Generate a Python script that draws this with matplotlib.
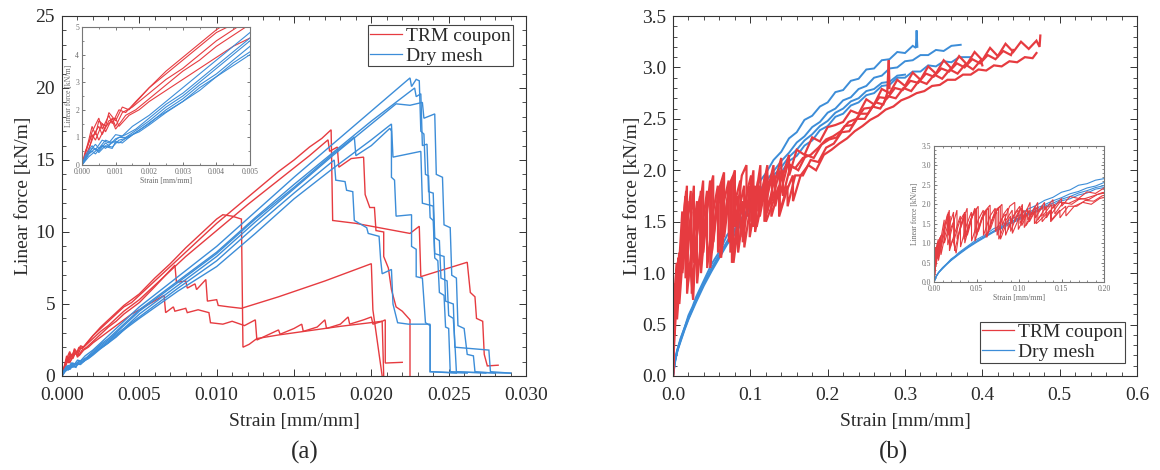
import matplotlib
matplotlib.use("Agg")
import matplotlib.pyplot as plt
from matplotlib.ticker import MultipleLocator, FormatStrFormatter

plt.rcParams['font.family'] = ['Liberation Serif', 'DejaVu Serif']

# ---------------- data: panel (a)  (strain [mm/mm], linear force [kN/m]) ----------------
trm_a1 = [(0, 0), (0.0002, 0.8), (0.0003, 1.2), (0.0005, 1.7), (0.0006, 1.3), (0.0008, 1.8), (0.0009, 1.5),
          (0.0011, 2.0), (0.0013, 1.9), (0.0016, 2.3), (0.0020, 2.8), (0.0025, 3.3), (0.0030, 3.8), (0.0035, 4.3),
          (0.0040, 4.8), (0.0045, 5.1), (0.0050, 5.6), (0.0060, 6.6), (0.0070, 7.6), (0.0080, 8.6), (0.0090, 9.6),
          (0.0100, 10.6), (0.0110, 11.5), (0.0120, 12.4), (0.0130, 13.3), (0.0140, 14.2), (0.0150, 15.0),
          (0.0160, 15.9), (0.0168, 16.5), (0.0174, 17.1), (0.0175, 10.8), (0.0190, 10.6), (0.0210, 10.2),
          (0.0225, 9.9), (0.0231, 10.4), (0.0232, 6.9), (0.0262, 7.9), (0.0264, 5.8), (0.0267, 5.5),
          (0.0268, 4.0), (0.0272, 3.8), (0.0273, 1.5), (0.0275, 0.7), (0.0282, 0.75)]
trm_a2 = [(0, 0), (0.0001, 0.5), (0.0003, 1.1), (0.0004, 0.9), (0.0006, 1.5), (0.0007, 1.2), (0.0009, 1.7),
          (0.0010, 1.4), (0.0012, 1.9), (0.0015, 2.1), (0.0020, 2.6), (0.0025, 3.1), (0.0030, 3.5), (0.0035, 4.0),
          (0.0040, 4.5), (0.0045, 4.9), (0.0050, 5.3), (0.0060, 6.3), (0.0080, 8.3), (0.0100, 10.1),
          (0.0120, 11.9), (0.0140, 13.6), (0.0160, 15.3), (0.0172, 16.4), (0.0173, 15.6), (0.0178, 15.9),
          (0.0179, 14.5), (0.0187, 15.1), (0.0195, 15.2), (0.0196, 12.6), (0.0199, 11.7), (0.0202, 11.7),
          (0.0203, 10.1), (0.0208, 10.0), (0.0208, 8.3), (0.0211, 7.5), (0.0213, 6.0), (0.0216, 4.8),
          (0.0220, 4.5), (0.0225, 3.9), (0.0225, 0.0)]
trm_a3 = [(0, 0), (0.0002, 0.9), (0.0003, 1.4), (0.0004, 1.1), (0.0005, 1.6), (0.0007, 1.4), (0.0008, 1.9),
          (0.0010, 1.6), (0.0012, 2.1), (0.0014, 2.0), (0.0017, 2.4), (0.0020, 2.8), (0.0025, 3.4), (0.0030, 3.9),
          (0.0035, 4.4), (0.0040, 4.9), (0.0045, 5.3), (0.0050, 5.7), (0.0060, 6.8), (0.0070, 7.8), (0.0080, 8.9),
          (0.0090, 9.9), (0.0100, 10.9), (0.0104, 11.2), (0.0110, 11.1), (0.0116, 10.9), (0.0117, 2.0),
          (0.0121, 2.2), (0.0126, 2.6), (0.0140, 2.85), (0.0160, 3.15), (0.0180, 3.45), (0.0207, 3.8),
          (0.0209, 3.9), (0.0209, 0.9), (0.0220, 0.95)]
trm_a4 = [(0, 0), (0.0002, 0.6), (0.0004, 1.2), (0.0005, 0.9), (0.0007, 1.4), (0.0009, 1.6), (0.0010, 1.3),
          (0.0013, 1.8), (0.0016, 2.0), (0.0020, 2.4), (0.0025, 2.9), (0.0030, 3.4), (0.0035, 3.8), (0.0040, 4.3),
          (0.0045, 4.7), (0.0050, 5.1), (0.0060, 6.2), (0.0073, 7.7), (0.0074, 6.5), (0.0080, 6.6), (0.0081, 6.1),
          (0.0086, 6.4), (0.0087, 6.0), (0.0093, 6.7), (0.0094, 5.2), (0.0100, 5.3), (0.0101, 4.9),
          (0.0108, 4.8), (0.0116, 4.7), (0.0140, 5.5), (0.0170, 6.6), (0.0200, 7.8), (0.0201, 4.6),
          (0.0207, 0.0)]
trm_a5 = [(0, 0), (0.0002, 0.5), (0.0003, 1.0), (0.0005, 1.4), (0.0006, 1.1), (0.0008, 1.6), (0.0010, 1.7),
          (0.0011, 1.4), (0.0014, 1.8), (0.0017, 2.0), (0.0020, 2.3), (0.0025, 2.7), (0.0030, 3.1), (0.0035, 3.5),
          (0.0040, 3.9), (0.0045, 4.3), (0.0050, 4.6), (0.0058, 5.1), (0.0066, 5.6), (0.0067, 4.4),
          (0.0072, 4.8), (0.0073, 4.5), (0.0080, 4.7), (0.0081, 4.4), (0.0088, 4.6), (0.0095, 4.4),
          (0.0096, 3.7), (0.0104, 3.6), (0.0110, 3.8), (0.0118, 3.5), (0.0125, 3.9), (0.0126, 2.5),
          (0.0132, 2.8), (0.0140, 3.2), (0.0141, 2.9), (0.0150, 3.3), (0.0155, 3.6), (0.0156, 3.1),
          (0.0165, 3.4), (0.0170, 3.9), (0.0171, 3.3), (0.0180, 3.6), (0.0185, 4.1), (0.0186, 3.6),
          (0.0195, 3.9), (0.0200, 4.1), (0.0201, 3.6), (0.0207, 3.8), (0.0208, 0.0)]

dry_a1 = [(0, 0), (0.0001, 0.35), (0.0003, 0.7), (0.0004, 0.55), (0.0006, 0.9), (0.0008, 0.8), (0.0010, 1.1),
          (0.0012, 1.05), (0.0015, 1.4), (0.0020, 1.8), (0.0025, 2.3), (0.0030, 2.8), (0.0035, 3.3), (0.0040, 3.8),
          (0.0045, 4.3), (0.0050, 4.8), (0.0075, 6.9), (0.0100, 9.0), (0.0125, 11.4), (0.0150, 13.8),
          (0.0175, 16.1), (0.0200, 18.4), (0.0225, 20.7), (0.0226, 20.1), (0.0229, 20.6), (0.0231, 20.5),
          (0.0232, 17.0), (0.0234, 16.8), (0.0235, 14.0), (0.0237, 13.9), (0.0238, 11.0), (0.0240, 10.8),
          (0.0241, 8.2), (0.0243, 8.0), (0.0244, 5.8), (0.0247, 5.6), (0.0248, 3.4), (0.0250, 3.3),
          (0.0251, 0.3), (0.0265, 0.25), (0.0290, 0.2)]
dry_a2 = [(0, 0), (0.0002, 0.4), (0.0003, 0.6), (0.0005, 0.5), (0.0007, 0.8), (0.0008, 0.7), (0.0010, 0.95),
          (0.0013, 1.1), (0.0016, 1.3), (0.0020, 1.7), (0.0025, 2.2), (0.0030, 2.6), (0.0035, 3.1), (0.0040, 3.6),
          (0.0045, 4.1), (0.0050, 4.6), (0.0075, 6.6), (0.0100, 8.6), (0.0125, 11.0), (0.0150, 13.3),
          (0.0175, 15.5), (0.0200, 17.7), (0.0228, 20.0), (0.0229, 19.4), (0.0232, 19.6), (0.0233, 16.0),
          (0.0236, 16.1), (0.0237, 12.8), (0.0240, 12.7), (0.0241, 9.6), (0.0244, 9.4), (0.0245, 6.8),
          (0.0249, 6.6), (0.0250, 4.2), (0.0253, 4.0), (0.0254, 2.3), (0.0255, 0.3), (0.0274, 0.2)]
dry_a3 = [(0, 0), (0.0001, 0.3), (0.0003, 0.5), (0.0004, 0.4), (0.0006, 0.7), (0.0009, 0.6), (0.0010, 0.85),
          (0.0012, 0.8), (0.0015, 1.1), (0.0020, 1.5), (0.0025, 2.0), (0.0030, 2.4), (0.0035, 2.9), (0.0040, 3.3),
          (0.0045, 3.8), (0.0050, 4.3), (0.0075, 6.3), (0.0100, 8.3), (0.0125, 10.7), (0.0150, 13.0),
          (0.0175, 15.3), (0.0200, 17.5), (0.0216, 18.9), (0.0225, 18.8), (0.0233, 19.0), (0.0234, 17.9),
          (0.0241, 18.2), (0.0242, 14.0), (0.0246, 13.8), (0.0247, 10.5), (0.0251, 10.3), (0.0252, 7.0),
          (0.0255, 6.8), (0.0256, 3.5), (0.0260, 3.3), (0.0262, 1.5), (0.0266, 1.4), (0.0267, 0.3),
          (0.0280, 0.2)]
dry_a4 = [(0, 0), (0.0002, 0.45), (0.0004, 0.75), (0.0005, 0.6), (0.0007, 0.9), (0.0009, 0.8), (0.0011, 1.0),
          (0.0013, 1.0), (0.0016, 1.25), (0.0020, 1.6), (0.0025, 2.1), (0.0030, 2.5), (0.0035, 3.0), (0.0040, 3.5),
          (0.0045, 4.0), (0.0050, 4.5), (0.0075, 6.5), (0.0100, 8.5), (0.0125, 10.9), (0.0150, 13.1),
          (0.0175, 15.4), (0.0189, 16.6), (0.0190, 15.3), (0.0200, 16.0), (0.0212, 17.2), (0.0213, 17.0),
          (0.0213, 13.8), (0.0215, 13.6), (0.0216, 11.1), (0.0226, 11.2), (0.0226, 9.0), (0.0229, 8.8),
          (0.0229, 6.9), (0.0233, 6.8), (0.0235, 3.7), (0.0238, 3.5), (0.0238, 0.3), (0.0255, 0.2)]
dry_a5 = [(0, 0), (0.0001, 0.2), (0.0002, 0.4), (0.0004, 0.6), (0.0005, 0.45), (0.0007, 0.7), (0.0009, 0.65),
          (0.0011, 0.9), (0.0014, 1.0), (0.0018, 1.35), (0.0022, 1.7), (0.0026, 2.0), (0.0030, 2.3), (0.0035, 2.8),
          (0.0040, 3.2), (0.0045, 3.7), (0.0050, 4.1), (0.0075, 6.1), (0.0100, 8.0), (0.0125, 10.4),
          (0.0150, 12.7), (0.0176, 15.0), (0.0177, 13.6), (0.0183, 13.5), (0.0184, 12.9), (0.0188, 12.8),
          (0.0189, 10.8), (0.0197, 10.3), (0.0198, 9.9), (0.0205, 9.7), (0.0206, 8.1), (0.0207, 7.1),
          (0.0213, 7.4), (0.0214, 5.0), (0.0217, 3.7), (0.0224, 3.6), (0.0238, 3.6), (0.0238, 0.3),
          (0.0262, 0.2)]
dry_a6 = [(0, 0), (0.0002, 0.3), (0.0004, 0.5), (0.0006, 0.7), (0.0007, 0.6), (0.0009, 0.85), (0.0011, 0.8),
          (0.0014, 1.05), (0.0017, 1.2), (0.0020, 1.45), (0.0025, 1.9), (0.0030, 2.3), (0.0035, 2.7),
          (0.0040, 3.2), (0.0045, 3.6), (0.0050, 4.0), (0.0075, 5.9), (0.0100, 7.6), (0.0125, 9.9),
          (0.0150, 12.3), (0.0175, 14.4), (0.0200, 16.4), (0.0213, 17.5), (0.0214, 15.2), (0.0232, 15.6),
          (0.0233, 12.0), (0.0240, 11.8), (0.0241, 8.5), (0.0247, 8.3), (0.0248, 5.2), (0.0253, 5.0),
          (0.0254, 2.0), (0.0276, 1.8), (0.0277, 0.3), (0.0290, 0.2)]

# ---------------- data: panel (b) ----------------
trm_b1 = [(0, 0), (0.002, 0.45), (0.004, 0.8), (0.006, 1.05), (0.0062, 0.7), (0.011, 1.3), (0.016, 1.75),
          (0.0162, 0.95), (0.022, 1.45), (0.027, 1.85), (0.0272, 1.1), (0.034, 1.6), (0.039, 1.9), (0.0392, 1.2),
          (0.046, 1.75), (0.052, 1.95), (0.0522, 1.3), (0.059, 1.8), (0.066, 1.98), (0.0662, 1.35),
          (0.074, 1.85), (0.080, 2.0), (0.0802, 1.45), (0.089, 1.95), (0.095, 2.05), (0.0952, 1.55),
          (0.104, 2.0), (0.1042, 1.6), (0.113, 2.05), (0.1132, 1.7), (0.122, 2.05), (0.1222, 1.8),
          (0.130, 2.05), (0.1302, 1.85), (0.140, 2.12), (0.1402, 1.9), (0.150, 2.15), (0.1502, 1.95),
          (0.160, 2.2), (0.170, 2.15), (0.180, 2.32), (0.190, 2.28), (0.200, 2.42), (0.210, 2.44),
          (0.220, 2.47), (0.230, 2.58), (0.240, 2.55), (0.250, 2.69), (0.260, 2.64), (0.270, 2.79),
          (0.280, 2.75), (0.290, 2.88), (0.300, 2.82), (0.310, 2.95), (0.320, 2.88), (0.330, 3.01),
          (0.340, 2.94), (0.350, 3.07), (0.360, 2.99), (0.370, 3.11), (0.380, 3.03), (0.390, 3.15),
          (0.400, 3.07), (0.410, 3.19), (0.420, 3.11), (0.430, 3.23), (0.440, 3.15), (0.450, 3.25),
          (0.460, 3.18), (0.470, 3.26), (0.474, 3.2), (0.475, 3.31)]
trm_b2 = [(0, 0), (0.001, 0.35), (0.003, 0.9), (0.005, 1.1), (0.0052, 0.55), (0.009, 0.95), (0.014, 1.45),
          (0.018, 1.85), (0.0182, 0.8), (0.022, 1.1), (0.026, 0.74), (0.030, 1.35), (0.036, 1.8), (0.0362, 1.0),
          (0.042, 1.5), (0.048, 1.9), (0.0482, 1.05), (0.056, 1.65), (0.062, 1.85), (0.0622, 1.15),
          (0.070, 1.7), (0.076, 1.9), (0.0762, 1.1), (0.085, 1.6), (0.092, 1.85), (0.0922, 1.25),
          (0.100, 1.65), (0.106, 1.85), (0.1062, 1.4), (0.115, 1.75), (0.120, 1.85), (0.1202, 1.5),
          (0.130, 1.7), (0.137, 1.85), (0.1372, 1.55), (0.147, 1.8), (0.155, 1.95), (0.1552, 1.7),
          (0.165, 1.95), (0.175, 2.05), (0.185, 2.0), (0.195, 2.15), (0.205, 2.2), (0.215, 2.26),
          (0.225, 2.31), (0.235, 2.38), (0.245, 2.43), (0.255, 2.49), (0.265, 2.53), (0.275, 2.59),
          (0.285, 2.62), (0.295, 2.68), (0.305, 2.71), (0.315, 2.75), (0.325, 2.77), (0.335, 2.82),
          (0.345, 2.83), (0.355, 2.88), (0.365, 2.88), (0.375, 2.93), (0.385, 2.93), (0.395, 2.98),
          (0.405, 2.97), (0.415, 3.02), (0.425, 3.01), (0.435, 3.06), (0.445, 3.05), (0.455, 3.1),
          (0.465, 3.09), (0.470, 3.14)]
trm_b3 = [(0, 0), (0.002, 0.6), (0.004, 1.0), (0.0042, 0.6), (0.008, 1.1), (0.012, 1.6), (0.0122, 1.0),
          (0.018, 1.45), (0.023, 1.8), (0.0232, 1.05), (0.030, 1.55), (0.035, 1.75), (0.0352, 1.1),
          (0.043, 1.6), (0.050, 1.9), (0.0502, 1.2), (0.058, 1.75), (0.064, 1.9), (0.0642, 1.3),
          (0.072, 1.85), (0.078, 1.95), (0.0782, 1.1), (0.085, 1.5), (0.090, 1.7), (0.0902, 1.3),
          (0.098, 1.75), (0.103, 1.9), (0.1032, 1.45), (0.112, 1.85), (0.1122, 1.55), (0.122, 1.95),
          (0.1222, 1.6), (0.132, 1.95), (0.1322, 1.65), (0.142, 2.0), (0.1422, 1.75), (0.152, 2.05),
          (0.162, 2.0), (0.172, 2.15), (0.182, 2.12), (0.192, 2.25), (0.202, 2.3), (0.212, 2.32),
          (0.222, 2.43), (0.232, 2.44), (0.242, 2.55), (0.252, 2.55), (0.262, 2.66), (0.272, 2.64),
          (0.277, 2.75), (0.279, 3.07), (0.280, 2.8)]
trm_b4 = [(0, 0), (0.001, 0.5), (0.002, 0.9), (0.0022, 0.4), (0.005, 0.8), (0.008, 1.2), (0.0082, 0.7),
          (0.013, 1.2), (0.019, 1.7), (0.0192, 0.9), (0.025, 1.3), (0.031, 1.7), (0.0312, 0.9), (0.038, 1.45),
          (0.044, 1.8), (0.0442, 1.05), (0.052, 1.6), (0.058, 1.85), (0.0582, 1.2), (0.066, 1.7), (0.072, 1.9),
          (0.0722, 1.3), (0.079, 1.6), (0.084, 1.75), (0.0842, 1.2), (0.093, 1.7), (0.099, 1.85),
          (0.0992, 1.35), (0.108, 1.75), (0.1082, 1.45), (0.118, 1.8), (0.1182, 1.5), (0.127, 1.75),
          (0.1272, 1.55), (0.138, 1.85), (0.1382, 1.6), (0.148, 1.85), (0.1482, 1.65), (0.158, 1.95),
          (0.168, 1.95), (0.178, 2.1), (0.188, 2.08), (0.198, 2.22), (0.208, 2.26), (0.218, 2.37),
          (0.228, 2.38), (0.238, 2.5), (0.248, 2.5), (0.258, 2.62), (0.268, 2.6), (0.278, 2.72), (0.288, 2.7),
          (0.298, 2.8), (0.308, 2.77), (0.318, 2.87), (0.328, 2.84), (0.338, 2.93), (0.348, 2.89),
          (0.358, 2.98), (0.368, 2.94), (0.378, 3.03), (0.388, 2.98), (0.398, 3.07), (0.400, 3.02)]
trm_b5 = [(0, 0), (0.003, 0.7), (0.005, 1.0), (0.007, 1.15), (0.0072, 0.85), (0.012, 1.4), (0.017, 1.8),
          (0.0172, 1.2), (0.021, 1.45), (0.024, 1.6), (0.0242, 0.8), (0.030, 1.3), (0.037, 1.75), (0.0372, 1.15),
          (0.044, 1.65), (0.049, 1.85), (0.0492, 1.25), (0.055, 1.55), (0.061, 1.8), (0.0612, 1.15),
          (0.068, 1.6), (0.074, 1.8), (0.0742, 1.2), (0.082, 1.75), (0.087, 1.9), (0.0872, 1.35), (0.096, 1.8),
          (0.101, 1.95), (0.1012, 1.5), (0.110, 1.9), (0.1102, 1.6), (0.119, 1.95), (0.1192, 1.65),
          (0.128, 1.95), (0.1282, 1.7), (0.138, 2.0), (0.1382, 1.75), (0.148, 2.05), (0.158, 2.02),
          (0.168, 2.12), (0.178, 2.15), (0.188, 2.22), (0.198, 2.3), (0.207, 2.33), (0.217, 2.38),
          (0.227, 2.47), (0.237, 2.5), (0.247, 2.6), (0.257, 2.61), (0.267, 2.71), (0.277, 2.7), (0.287, 2.8),
          (0.297, 2.78), (0.307, 2.87), (0.317, 2.85), (0.327, 2.94), (0.337, 2.91), (0.347, 2.99),
          (0.357, 2.96), (0.367, 3.04), (0.377, 3.0), (0.387, 3.08), (0.397, 3.04), (0.407, 3.12),
          (0.417, 3.08), (0.427, 3.16), (0.437, 3.12), (0.440, 3.17)]

dry_b1 = [(0, 0), (0.002, 0.12), (0.005, 0.24), (0.010, 0.37), (0.015, 0.47), (0.020, 0.59), (0.025, 0.67),
          (0.030, 0.77), (0.040, 0.93), (0.050, 1.09), (0.060, 1.21), (0.070, 1.37), (0.080, 1.47),
          (0.090, 1.61), (0.100, 1.71), (0.110, 1.87), (0.120, 1.97), (0.130, 2.10), (0.140, 2.18),
          (0.150, 2.31), (0.160, 2.37), (0.170, 2.49), (0.180, 2.53), (0.190, 2.62), (0.200, 2.66),
          (0.210, 2.76), (0.220, 2.78), (0.230, 2.87), (0.240, 2.89), (0.250, 2.98), (0.260, 2.99),
          (0.270, 3.07), (0.280, 3.08), (0.290, 3.15), (0.300, 3.14), (0.310, 3.21), (0.314, 3.19),
          (0.315, 3.36), (0.316, 3.2)]
dry_b2 = [(0, 0), (0.003, 0.15), (0.006, 0.26), (0.010, 0.35), (0.015, 0.46), (0.020, 0.56), (0.030, 0.74),
          (0.040, 0.9), (0.050, 1.05), (0.060, 1.18), (0.070, 1.31), (0.080, 1.43), (0.090, 1.55),
          (0.100, 1.65), (0.110, 1.78), (0.120, 1.89), (0.130, 1.99), (0.140, 2.09), (0.150, 2.17),
          (0.160, 2.27), (0.170, 2.33), (0.180, 2.42), (0.190, 2.47), (0.200, 2.56), (0.210, 2.6),
          (0.220, 2.68), (0.230, 2.71), (0.240, 2.79), (0.250, 2.82), (0.260, 2.9), (0.270, 2.92),
          (0.280, 2.99), (0.290, 3.0), (0.300, 3.06), (0.310, 3.07), (0.320, 3.12), (0.330, 3.12),
          (0.340, 3.17), (0.350, 3.16), (0.360, 3.21), (0.372, 3.22)]
dry_b3 = [(0, 0), (0.003, 0.16), (0.006, 0.25), (0.010, 0.34), (0.015, 0.45), (0.020, 0.55), (0.030, 0.72),
          (0.040, 0.88), (0.050, 1.02), (0.060, 1.15), (0.070, 1.28), (0.080, 1.38), (0.090, 1.5),
          (0.100, 1.6), (0.110, 1.72), (0.120, 1.8), (0.130, 1.92), (0.140, 1.98), (0.150, 2.09),
          (0.160, 2.14), (0.170, 2.24), (0.180, 2.29), (0.190, 2.39), (0.200, 2.43), (0.210, 2.52),
          (0.220, 2.55), (0.230, 2.63), (0.240, 2.66), (0.250, 2.73), (0.260, 2.75), (0.270, 2.82),
          (0.280, 2.83), (0.290, 2.9), (0.300, 2.9), (0.310, 2.96), (0.320, 2.96), (0.330, 3.02),
          (0.340, 3.01), (0.350, 3.06), (0.360, 3.05), (0.370, 3.1), (0.385, 3.1)]
dry_b4 = [(0, 0), (0.002, 0.13), (0.005, 0.23), (0.010, 0.36), (0.015, 0.47), (0.020, 0.57), (0.030, 0.74),
          (0.040, 0.9), (0.050, 1.04), (0.060, 1.17), (0.070, 1.3), (0.080, 1.41), (0.090, 1.53),
          (0.100, 1.63), (0.110, 1.75), (0.120, 1.84), (0.130, 1.95), (0.140, 2.03), (0.150, 2.13),
          (0.160, 2.2), (0.170, 2.29), (0.180, 2.35), (0.190, 2.43), (0.200, 2.48), (0.210, 2.56),
          (0.220, 2.6), (0.230, 2.67), (0.240, 2.7), (0.250, 2.77), (0.260, 2.79), (0.270, 2.85),
          (0.280, 2.86), (0.290, 2.92), (0.300, 2.93)]

trm_a = [trm_a1, trm_a2, trm_a3, trm_a4, trm_a5]
dry_a = [dry_a1, dry_a2, dry_a3, dry_a4, dry_a5, dry_a6]
trm_b = [trm_b1, trm_b2, trm_b3, trm_b4, trm_b5]
dry_b = [dry_b1, dry_b2, dry_b3, dry_b4]

legend_labels = ["TRM coupon", "Dry mesh"]
xlabel_text = "Strain [mm/mm]"
ylabel_text = "Linear force [kN/m]"
panel_labels = ["(a)", "(b)"]

RED = "#e63b40"
BLUE = "#3c8dd8"
TXT = "#2a2a2a"
INS_TXT = "#6a6a6a"

W, H = 1160, 470
fig = plt.figure(figsize=(W / 100, H / 100), dpi=100)
ax1 = fig.add_axes([62 / W, 94 / H, 464 / W, 360 / H])
ax2 = fig.add_axes([673 / W, 94 / H, 464 / W, 360 / H])
ins1 = fig.add_axes([82 / W, (H - 165) / H, 168 / W, 138 / H])
ins2 = fig.add_axes([934 / W, (H - 282) / H, 170 / W, 136 / H])


def xs(c):
    return [p[0] for p in c]


def ys(c):
    return [p[1] for p in c]


def draw(ax, first, second, col1, col2, lw1, lw2):
    h1 = h2 = None
    for c in first:
        h1, = ax.plot(xs(c), ys(c), color=col1, lw=lw1, solid_joinstyle='miter')
    for c in second:
        h2, = ax.plot(xs(c), ys(c), color=col2, lw=lw2, solid_joinstyle='miter')
    return h1, h2


# panel (a): red under blue
hr, hb = draw(ax1, trm_a, dry_a, RED, BLUE, 1.0, 1.0)
draw(ins1, trm_a, dry_a, RED, BLUE, 0.8, 0.8)
# panel (b): blue under red
hb2, hr2 = draw(ax2, dry_b, trm_b, BLUE, RED, 1.4, 1.6)
draw(ins2, dry_b, trm_b, BLUE, RED, 0.8, 0.8)


def style(ax, xlim, ylim, xmaj, xmin, ymaj, ymin, xfmt, yfmt, fs, tcol, scol, mlen, nlen, xpad, ypad):
    ax.set_xlim(*xlim)
    ax.set_ylim(*ylim)
    ax.xaxis.set_major_locator(MultipleLocator(xmaj))
    ax.xaxis.set_minor_locator(MultipleLocator(xmin))
    ax.yaxis.set_major_locator(MultipleLocator(ymaj))
    ax.yaxis.set_minor_locator(MultipleLocator(ymin))
    ax.xaxis.set_major_formatter(FormatStrFormatter(xfmt))
    ax.yaxis.set_major_formatter(FormatStrFormatter(yfmt))
    ax.tick_params(which='both', direction='in', top=True, right=True, color=scol,
                   labelcolor=tcol, labelsize=fs)
    ax.tick_params(axis='x', which='both', pad=xpad)
    ax.tick_params(axis='y', which='both', pad=ypad)
    ax.tick_params(which='major', length=mlen, width=0.7)
    ax.tick_params(which='minor', length=nlen, width=0.6)
    for s in ax.spines.values():
        s.set_color(scol)
        s.set_linewidth(0.8)


style(ax1, (0, 0.030), (0, 25), 0.005, 0.001, 5, 1, '%.3f', '%d', 14, TXT, '#333333', 5, 3, 8, 5)
style(ax2, (0, 0.6), (0, 3.5), 0.1, 0.02, 0.5, 0.1, '%.1f', '%.1f', 14, TXT, '#333333', 5, 3, 8, 5)
style(ins1, (0, 0.005), (0, 5), 0.001, 0.0005, 1, 0.5, '%.3f', '%d', 5.5, INS_TXT, '#777777', 2.5, 1.5, 2, 2)
style(ins2, (0, 0.2), (0, 3.5), 0.05, 0.01, 0.5, 0.1, '%.2f', '%.1f', 5.5, INS_TXT, '#777777', 2.5, 1.5, 2, 2)

for ax, yl in ((ax1, -0.064), (ax2, -0.068)):
    ax.set_xlabel(xlabel_text, fontsize=14, color=TXT)
    ax.set_ylabel(ylabel_text, fontsize=14, color=TXT)
    ax.xaxis.set_label_coords(0.5, -0.103)
    ax.yaxis.set_label_coords(yl, 0.5)

for ax in (ins1, ins2):
    ax.set_xlabel(xlabel_text, fontsize=5.5, color=INS_TXT, labelpad=1)
    ax.set_ylabel(ylabel_text, fontsize=5.5, color=INS_TXT, labelpad=2)

leg_kw = dict(fontsize=14, frameon=True, fancybox=False, handlelength=1.65, handletextpad=0.2,
              borderpad=0.1, labelspacing=0.12, borderaxespad=0.0, framealpha=1)
l1 = ax1.legend([hr, hb], legend_labels, loc='upper right', bbox_to_anchor=(0.972, 0.975), **leg_kw)
l2 = ax2.legend([hr2, hb2], legend_labels, loc='lower right', bbox_to_anchor=(0.974, 0.036), **leg_kw)
for lg in (l1, l2):
    lg.get_frame().set_edgecolor('#444444')
    lg.get_frame().set_linewidth(0.8)
    for t in lg.get_texts():
        t.set_color(TXT)
    for ln in lg.get_lines():
        ln.set_linewidth(0.9)

fig.text(305 / W, 1 - 452 / H, panel_labels[0], ha='center', va='center', fontsize=18, color=TXT)
fig.text(893 / W, 1 - 452 / H, panel_labels[1], ha='center', va='center', fontsize=18, color=TXT)

fig.savefig("out.png", dpi=100)
